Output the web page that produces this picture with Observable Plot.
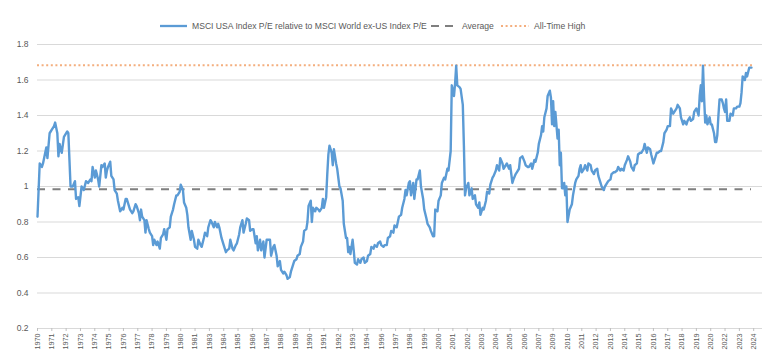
<!DOCTYPE html>
<html>
<head>
<meta charset="utf-8">
<script src="https://cdn.jsdelivr.net/npm/d3@7"></script>
<script src="https://cdn.jsdelivr.net/npm/@observablehq/plot@0.6"></script>
<style>
  html, body { margin: 0; padding: 0; background: #fff; }
  body { width: 770px; height: 356px; overflow: hidden; font-family: "Liberation Sans", Arial, sans-serif; }
  #legend { height: 36px; position: relative; font-size: 8.6px; color: #595959; }
  #legend .item { position: absolute; top: 21px; display: flex; align-items: center; height: 10px; white-space: nowrap; }
  #legend svg { display: block; }
</style>
</head>
<body>
<div id="legend"></div>
<div id="chart"></div>
<script>
// Month index counted from January 1970 (0 = Jan 1970)
const months = [
  0, 2, 4, 5, 8, 9, 11, 13, 15, 16,
  18, 19, 20, 22, 24, 27, 28, 29, 30, 32,
  34, 35, 37, 38, 40, 42, 44, 46, 48, 49,
  50, 52, 53, 55, 56, 58, 59, 61, 62, 63,
  64, 66, 67, 69, 70, 72, 73, 75, 77, 78,
  80, 81, 83, 84, 86, 87, 89, 90, 92, 93,
  94, 95, 97, 98, 99, 101, 102, 104, 105, 106,
  108, 109, 111, 112, 114, 115, 117, 118, 120, 121,
  123, 124, 126, 127, 129, 130, 132, 133, 135, 136,
  137, 139, 140, 142, 143, 145, 146, 148, 149, 151,
  152, 154, 155, 157, 158, 160, 161, 163, 164, 165,
  167, 169, 171, 172, 174, 175, 177, 178, 180, 181,
  183, 184, 186, 187, 189, 190, 192, 193, 195, 196,
  198, 199, 200, 202, 203, 205, 206, 208, 209, 211,
  212, 214, 215, 217, 218, 220, 221, 223, 224, 226,
  227, 229, 230, 232, 233, 235, 236, 238, 239, 241,
  242, 244, 245, 246, 248, 249, 250, 252, 253, 255,
  256, 258, 259, 260, 262, 263, 264, 265, 267, 268,
  269, 271, 272, 274, 275, 277, 278, 280, 281, 282,
  283, 284, 286, 287, 288, 290, 291, 293, 294, 296,
  297, 299, 300, 302, 303, 305, 306, 308, 309, 311,
  312, 314, 315, 317, 318, 320, 321, 323, 324, 326,
  328, 330, 331, 333, 334, 335, 337, 338, 339, 341,
  342, 344, 345, 347, 348, 350, 351, 353, 354, 356,
  357, 359, 360, 361, 363, 364, 366, 367, 369, 370,
  372, 373, 375, 376, 378, 379, 380, 381, 383, 384,
  386, 387, 388, 389, 391, 392, 394, 395, 397, 398,
  400, 401, 402, 404, 405, 407, 408, 410, 411, 413,
  414, 416, 417, 419, 420, 422, 423, 425, 426, 428,
  429, 431, 432, 434, 435, 437, 438, 440, 442, 443,
  445, 446, 448, 449, 451, 452, 454, 455, 457, 458,
  459, 460, 462, 463, 465, 466, 467, 468, 469, 470,
  472, 473, 474, 475, 476, 477, 478, 479, 480, 481,
  483, 485, 486, 488, 489, 491, 492, 493, 494, 496,
  497, 499, 500, 502, 503, 505, 506, 508, 509, 511,
  512, 514, 515, 517, 518, 520, 521, 523, 524, 526,
  527, 529, 530, 532, 533, 535, 536, 538, 539, 541,
  542, 544, 545, 547, 548, 550, 551, 553, 554, 556,
  557, 559, 560, 562, 563, 565, 566, 568, 569, 571,
  572, 574, 575, 577, 578, 580, 581, 583, 584, 586,
  587, 589, 590, 592, 593, 595, 596, 598, 600, 601,
  602, 603, 604, 605, 606, 607, 608, 610, 611, 612,
  614, 615, 616, 617, 618, 619, 621, 622, 623, 624,
  625, 626, 628, 629, 631, 632, 634, 635, 637, 638,
  639, 640, 642, 643, 644, 646, 647, 648
];
// MSCI USA P/E relative to MSCI World ex-US P/E
const ratio = [
  0.83, 1.13, 1.11, 1.13, 1.22, 1.16, 1.30, 1.32, 1.34, 1.36,
  1.30, 1.17, 1.24, 1.19, 1.28, 1.31, 1.30, 1.15, 1.00, 1.00,
  1.03, 0.93, 0.94, 0.89, 1.00, 0.98, 1.03, 1.02, 1.04, 1.03,
  1.11, 1.05, 1.09, 1.04, 1.00, 1.12, 1.11, 1.13, 1.05, 1.09,
  1.11, 1.14, 1.06, 1.04, 0.98, 0.96, 0.92, 0.86, 0.88, 0.87,
  0.93, 0.93, 0.89, 0.87, 0.85, 0.86, 0.90, 0.89, 0.85, 0.81,
  0.87, 0.83, 0.81, 0.74, 0.81, 0.76, 0.74, 0.72, 0.67, 0.70,
  0.67, 0.69, 0.65, 0.71, 0.73, 0.76, 0.70, 0.76, 0.77, 0.83,
  0.87, 0.90, 0.95, 0.95, 0.97, 1.01, 0.98, 0.91, 0.88, 0.84,
  0.77, 0.70, 0.75, 0.70, 0.66, 0.65, 0.70, 0.67, 0.66, 0.71,
  0.74, 0.72, 0.77, 0.81, 0.80, 0.77, 0.80, 0.77, 0.79, 0.77,
  0.71, 0.67, 0.63, 0.64, 0.65, 0.70, 0.65, 0.64, 0.67, 0.68,
  0.73, 0.77, 0.81, 0.74, 0.79, 0.82, 0.81, 0.75, 0.76, 0.76,
  0.68, 0.72, 0.64, 0.70, 0.64, 0.69, 0.60, 0.70, 0.70, 0.70,
  0.61, 0.66, 0.67, 0.61, 0.55, 0.58, 0.53, 0.51, 0.52, 0.50,
  0.48, 0.49, 0.52, 0.56, 0.58, 0.59, 0.61, 0.62, 0.66, 0.69,
  0.75, 0.76, 0.80, 0.89, 0.92, 0.80, 0.88, 0.86, 0.88, 0.87,
  0.86, 0.88, 0.93, 0.88, 0.94, 1.07, 1.18, 1.23, 1.19, 1.12,
  1.21, 1.13, 1.10, 1.00, 0.99, 0.92, 0.79, 0.71, 0.71, 0.63,
  0.66, 0.62, 0.70, 0.64, 0.57, 0.56, 0.59, 0.57, 0.59, 0.60,
  0.57, 0.58, 0.61, 0.62, 0.66, 0.65, 0.67, 0.66, 0.68, 0.69,
  0.67, 0.66, 0.67, 0.67, 0.71, 0.72, 0.75, 0.74, 0.78, 0.77,
  0.83, 0.84, 0.88, 0.93, 0.98, 0.95, 1.02, 1.03, 0.95, 1.02,
  0.93, 1.04, 1.04, 1.09, 1.00, 0.93, 0.87, 0.82, 0.79, 0.77,
  0.75, 0.72, 0.72, 0.87, 0.86, 0.92, 0.95, 1.02, 1.05, 1.04,
  1.10, 1.09, 1.20, 1.57, 1.51, 1.58, 1.68, 1.57, 1.56, 1.55,
  1.46, 1.23, 0.95, 0.99, 1.02, 0.95, 0.99, 0.93, 0.95, 0.90,
  0.88, 0.91, 0.84, 0.88, 0.87, 0.92, 0.97, 0.96, 1.01, 1.05,
  1.06, 1.09, 1.12, 1.09, 1.16, 1.13, 1.10, 1.12, 1.13, 1.10,
  1.12, 1.02, 1.04, 1.07, 1.08, 1.10, 1.16, 1.17, 1.14, 1.12,
  1.11, 1.11, 1.13, 1.10, 1.15, 1.14, 1.19, 1.24, 1.29, 1.34,
  1.31, 1.39, 1.44, 1.51, 1.54, 1.50, 1.35, 1.48, 1.34, 1.42,
  1.27, 1.32, 1.12, 1.19, 0.99, 0.99, 1.02, 0.95, 1.00, 0.80,
  0.87, 0.90, 0.95, 1.02, 1.04, 1.06, 1.10, 1.12, 1.08, 1.10,
  1.12, 1.09, 1.13, 1.12, 1.09, 1.07, 1.09, 1.10, 1.06, 1.02,
  1.00, 0.98, 1.00, 1.02, 1.03, 1.04, 1.07, 1.08, 1.08, 1.09,
  1.11, 1.09, 1.10, 1.09, 1.12, 1.15, 1.17, 1.14, 1.11, 1.09,
  1.12, 1.13, 1.18, 1.19, 1.19, 1.21, 1.24, 1.19, 1.22, 1.21,
  1.18, 1.13, 1.15, 1.19, 1.19, 1.20, 1.20, 1.25, 1.30, 1.32,
  1.34, 1.34, 1.44, 1.41, 1.42, 1.44, 1.46, 1.44, 1.39, 1.35,
  1.37, 1.35, 1.37, 1.39, 1.37, 1.38, 1.42, 1.44, 1.40, 1.51,
  1.57, 1.48, 1.68, 1.50, 1.36, 1.40, 1.35, 1.39, 1.35, 1.35,
  1.30, 1.25, 1.25, 1.29, 1.40, 1.49, 1.49, 1.47, 1.44, 1.42,
  1.49, 1.37, 1.37, 1.41, 1.40, 1.44, 1.44, 1.45, 1.45, 1.47,
  1.53, 1.62, 1.60, 1.64, 1.62, 1.67, 1.67, 1.67
];
const average = 0.985;
const allTimeHigh = 1.683;
const yTicks = [0.2, 0.4, 0.6, 0.8, 1, 1.2, 1.4, 1.6, 1.8];
const labelEveryMonths = 13;
const xTicks = d3.range(0, 651, labelEveryMonths);
const seriesNames = ["MSCI USA Index P/E relative to MSCI World ex-US Index P/E", "Average", "All-Time High"];
const colors = { line: "#5B9BD5", avg: "#7F7F7F", ath: "#F4AE7E", grid: "#D9D9D9", text: "#595959" };

if (months.length !== ratio.length) console.error("length mismatch", months.length, ratio.length);
const data = months.map((m, i) => ({ m, v: ratio[i] }));
const first = months[0], last = months[months.length - 1];

// Legend
const legend = document.getElementById("legend");
const items = [
  { left: 160, label: seriesNames[0], sw: 27, draw: `<line x1="0" y1="5" x2="27" y2="5" stroke="${colors.line}" stroke-width="2.3"/>` },
  { left: 431, label: seriesNames[1], sw: 26, draw: `<line x1="0" y1="5" x2="26" y2="5" stroke="${colors.avg}" stroke-width="2" stroke-dasharray="8,6"/>` },
  { left: 501, label: seriesNames[2], sw: 28, draw: `<line x1="0" y1="5" x2="28" y2="5" stroke="${colors.ath}" stroke-width="1.8" stroke-dasharray="2,2.6"/>` }
];
for (const it of items) {
  const d = document.createElement("div");
  d.className = "item";
  d.style.left = it.left + "px";
  d.innerHTML = `<svg width="${it.sw}" height="10">${it.draw}</svg><span style="margin-left:5px">${it.label}</span>`;
  legend.appendChild(d);
}

const fmtY = d => String(+d.toFixed(1));
const fmtX = m => String(Math.floor(1970 + m / 12));

const chart = Plot.plot({
  width: 770,
  height: 320,
  marginLeft: 37,
  marginRight: 8,
  marginTop: 8,
  marginBottom: 28,
  style: { fontFamily: '"Liberation Sans", Arial, sans-serif', color: colors.text, background: "#fff", overflow: "visible" },
  x: { domain: [0, 658] },
  y: { domain: [0.2, 1.8] },
  marks: [
    Plot.ruleY(yTicks, { stroke: colors.grid, strokeWidth: 1 }),
    Plot.axisY({ ticks: yTicks, tickFormat: fmtY, tickSize: 0, tickPadding: 9, fontSize: 8.5, fill: colors.text, label: null }),
    Plot.axisX({ ticks: xTicks, tickFormat: fmtX, tickRotate: -90, tickSize: 3, tickPadding: 2, fontSize: 7.2, stroke: "#BFBFBF", fill: colors.text, label: null }),
    Plot.ruleY([allTimeHigh], { x1: first, x2: last + 3, stroke: colors.ath, strokeWidth: 1.8, strokeDasharray: "2,2.6" }),
    Plot.ruleY([average], { x1: first, x2: last, stroke: colors.avg, strokeWidth: 2, strokeDasharray: "8,7.5" }),
    Plot.line(data, { x: "m", y: "v", stroke: colors.line, strokeWidth: 2.4, strokeLinejoin: "round" })
  ]
});
document.getElementById("chart").appendChild(chart);
</script>
</body>
</html>
